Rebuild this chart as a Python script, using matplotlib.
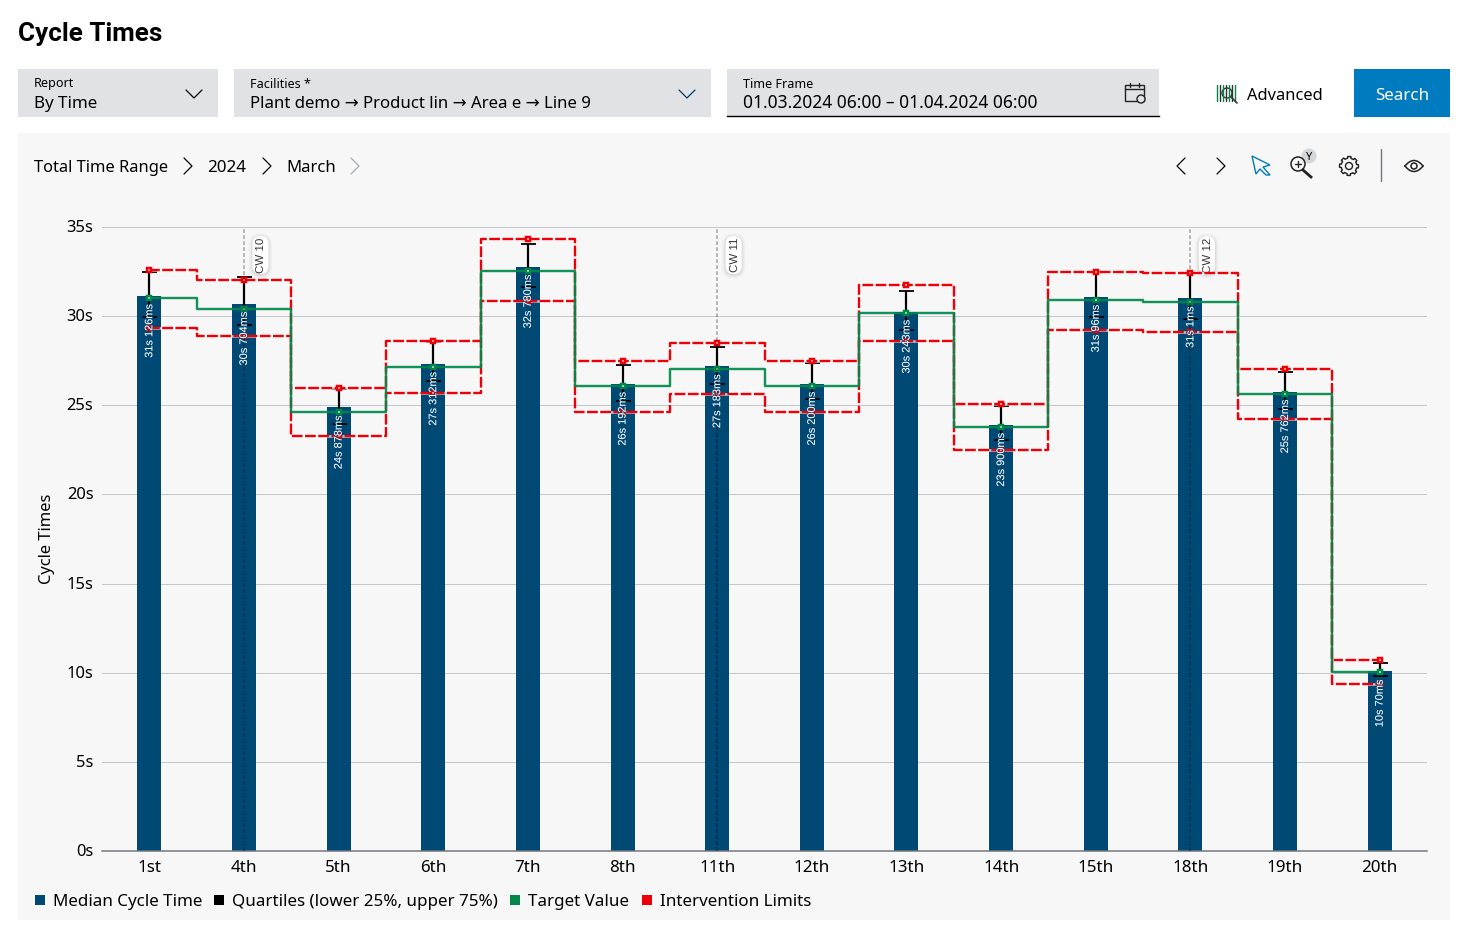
import matplotlib
matplotlib.use("Agg")
import matplotlib.pyplot as plt
import numpy as np
from matplotlib.patches import Rectangle, FancyBboxPatch, Circle, Polygon
from matplotlib.lines import Line2D
from matplotlib.transforms import ScaledTranslation
import matplotlib.patheffects as pe

plt.rcParams['font.family'] = ['Noto Sans', 'DejaVu Sans']

days = ["1st", "4th", "5th", "6th", "7th", "8th", "11th", "12th", "13th", "14th", "15th", "18th", "19th", "20th"]
median = [31.126, 30.704, 24.878, 27.312, 32.78, 26.192, 27.183, 26.2, 30.243, 23.9, 31.096, 31.001, 25.762, 10.07]
value_labels = ["31s 126ms", "30s 704ms", "24s 878ms", "27s 312ms", "32s 780ms", "26s 192ms", "27s 183ms",
                "26s 200ms", "30s 243ms", "23s 900ms", "31s 96ms", "31s 1ms", "25s 762ms", "10s 70ms"]
q_upper = [32.45, 32.17, 25.93, 28.56, 34.06, 27.27, 28.28, 27.39, 31.42, 24.94, 32.49, 32.40, 26.88, 10.56]
q_lower = [29.97, 29.52, 23.93, 26.39, 31.61, 25.22, 26.17, 25.33, 29.20, 23.07, 29.97, 29.85, 24.81, 9.79]
target = [30.99, 30.42, 24.64, 27.16, 32.56, 26.06, 27.01, 26.06, 30.15, 23.81, 30.88, 30.77, 25.61, 10.02]
limit_upper = [32.60, 32.04, 25.98, 28.62, 34.30, 27.46, 28.47, 27.46, 31.72, 25.09, 32.49, 32.40, 27.01, 10.73]
limit_lower = [29.35, 28.86, 23.29, 25.70, 30.86, 24.64, 25.61, 24.65, 28.58, 22.47, 29.24, 29.12, 24.25, 9.34]
cw_weeks = [("CW 10", 1), ("CW 11", 6), ("CW 12", 11)]
y_ticks = [0, 5, 10, 15, 20, 25, 30, 35]

BLUE = "#004975"
GREEN = "#00884a"
RED = "#ed0007"
PX = 0.72  # one pixel in points at dpi 100

W, H = 1469, 938
fig = plt.figure(figsize=(W / 100, H / 100), dpi=100, facecolor="white")

# page chrome, in pixels
ui = fig.add_axes([0, 0, 1, 1])
ui.set_xlim(0, W)
ui.set_ylim(H, 0)
ui.axis("off")


def txt(x, y, s, px=16, **kw):
    kw.setdefault("va", "center")
    kw.setdefault("color", "#000000")
    ui.text(x, y, s, fontsize=px * PX, **kw)


def poly(xs, ys, color="#000000", lw=0.9, zorder=4):
    ui.plot(xs, ys, color=color, lw=lw, solid_capstyle="round", solid_joinstyle="miter", zorder=zorder)


def chevron_down(x, y, color="#000000"):
    poly([x - 8, x, x + 8], [y - 4, y + 4, y - 4], color)


def chevron_right(x, y, color="#000000"):
    poly([x - 4, x + 4, x - 4], [y - 8, y, y + 8], color)


def chevron_left(x, y, color="#000000"):
    poly([x + 4, x - 4, x + 4], [y - 8, y, y + 8], color)


ui.add_patch(Rectangle((18, 133), 1432, 787, fc="#f7f7f7", ec="none"))
txt(18, 34, "Cycle Times", 26, fontweight="bold", family="Roboto")

ui.add_patch(Rectangle((18, 69), 200, 48, fc="#e0e2e5", ec="none"))
txt(34, 84, "Report", 12.6)
txt(34, 103.5, "By Time", 17)
chevron_down(194, 94)

ui.add_patch(Rectangle((234, 69), 477, 48, fc="#e0e2e5", ec="none"))
txt(250, 84, "Facilities *", 12.6)
txt(250, 103.5, "Plant demo \u2192 Product lin \u2192 Area e \u2192 Line 9", 16.8)
chevron_down(687, 94, "#003b6a")

ui.add_patch(Rectangle((727, 69), 432, 48, fc="#e0e2e5", ec="none"))
ui.plot([727, 1159], [116.5, 116.5], color="#000000", lw=1.0)
txt(743, 85, "Time Frame", 12.6)
txt(743, 102.5, "01.03.2024 06:00 \u2013 01.04.2024 06:00", 17.4)

# calendar icon
ui.add_patch(Rectangle((1125, 85), 19, 16, fc="none", ec="#222222", lw=1.0))
poly([1125, 1144], [89, 89], "#222222", 1.0)
poly([1130, 1130], [83, 87], "#222222", 1.0)
poly([1139, 1139], [83, 87], "#222222", 1.0)
ui.add_patch(Circle((1141, 99), 4, fc="#e0e2e5", ec="#222222", lw=1.0, zorder=3))

# advanced icon
for k, c in zip(range(1217, 1236, 3), ["#00884a", "#333333"] * 4):
    poly([k, k], [85, 101], c, 1.0)
ui.add_patch(Circle((1227, 93), 5, fc="none", ec="#333333", lw=1.0, zorder=3))
poly([1231, 1237], [97, 103], "#333333", 1.2)
txt(1247, 95.5, "Advanced", 16.4)

ui.add_patch(Rectangle((1354, 69), 96, 48, fc="#007bc0", ec="none"))
txt(1402, 95.5, "Search", 17, color="white", ha="center")

txt(34, 167.5, "Total Time Range", 16.5)
chevron_right(188, 166)
txt(207.5, 167.5, "2024", 17)
chevron_right(267, 166)
txt(286.5, 167.5, "March", 16.7)
chevron_right(355, 166, "#a4abb3")

chevron_left(1181, 166)
chevron_right(1221, 166)
# cursor icon
ui.add_patch(Polygon([(1252, 156), (1270, 165), (1263, 167), (1270, 175), (1266, 175), (1260, 169), (1256, 174)],
                     closed=True, fc="none", ec="#007bc0", lw=1.0))
# zoom icon with Y badge
ui.add_patch(Circle((1309, 156), 7.5, fc="#d4d7da", ec="none"))
txt(1309, 157, "Y", 11, ha="center")
ui.add_patch(Circle((1298, 164), 7, fc="#f7f7f7", ec="#222222", lw=1.1, zorder=3))
poly([1295, 1301], [164, 164], "#222222", 1.0)
poly([1298, 1298], [161, 167], "#222222", 1.0)
ui.plot([1303, 1311], [170, 177], color="#222222", lw=2.0, zorder=3)
# gear icon
ang = np.linspace(0, 2 * np.pi, 97)
rad = 9.5 - 1.7 * (np.cos(8 * ang) < 0)
ui.add_patch(Polygon(np.c_[1349 + rad * np.cos(ang), 166 + rad * np.sin(ang)], closed=True, fc="none", ec="#222222", lw=1.0))
ui.add_patch(Circle((1349, 166), 3.5, fc="none", ec="#222222", lw=1.0))
poly([1381.5, 1381.5], [149, 181], "#71767c", 1.0)
# eye icon
t = np.linspace(-1, 1, 41)
ui.plot(1414 + 9 * t, 166 - 5.5 * (1 - t ** 2), color="#222222", lw=1.1)
ui.plot(1414 + 9 * t, 166 + 5.5 * (1 - t ** 2), color="#222222", lw=1.1)
ui.add_patch(Circle((1414, 166), 3, fc="none", ec="#222222", lw=1.1))

# chart
ax = fig.add_axes([102 / W, (H - 851) / H, 1325 / W, 624 / H], facecolor="none")
x = np.arange(len(days))
ax.set_xlim(-0.5, len(days) - 0.5)
ax.set_ylim(0, 35)
ax.set_axisbelow(True)
ax.grid(axis="y", color="#c1c7cc", lw=1 * PX)
ax.set_yticks(y_ticks)
ax.set_yticklabels(["%ds" % v for v in y_ticks], fontsize=16.5 * PX)
ax.set_xticks(x)
ax.set_xticklabels(days, fontsize=17 * PX)
ax.tick_params(axis="y", length=0, pad=6.2)
ax.tick_params(axis="x", length=0, pad=6.7)
for lab in ax.get_yticklabels():
    lab.set_transform(lab.get_transform() + ScaledTranslation(0, 1 / 100, fig.dpi_scale_trans))
for s in ["top", "left", "right"]:
    ax.spines[s].set_visible(False)
ax.spines["bottom"].set_color("#71767c")
ax.spines["bottom"].set_linewidth(1.5 * PX)
ax.set_ylabel("Cycle Times", fontsize=16.5 * PX)
ax.yaxis.set_label_coords((55 - 102) / 1325, 0.5)

ax.bar(x, median, width=0.2536, color=BLUE, zorder=2)

# quartile whiskers
ax.vlines(x, q_lower, q_upper, color="black", lw=2.2 * PX, zorder=3)
ax.plot(x, q_upper, ls="none", marker="_", ms=15 * PX, mew=1.8 * PX, color="black", zorder=3)
ax.plot(x, q_lower, ls="none", marker="_", ms=15 * PX, mew=1.8 * PX, color="black", zorder=3)

# intervention limits, white showing through the dash gaps
for lim in [limit_upper, limit_lower]:
    ax.plot(x, lim, drawstyle="steps-mid", color="white", lw=2.6 * PX, alpha=0.7, zorder=4)
    ax.plot(x, lim, drawstyle="steps-mid", color=RED, lw=2.4 * PX, ls=(0, (4.5, 1)), zorder=4)
    ax.plot(x, lim, ls="none", marker="s", ms=4.5 * PX, mfc="white", mec=RED, mew=2.5 * PX, zorder=5)

ax.plot(x, target, drawstyle="steps-mid", color=GREEN, lw=2.4 * PX, alpha=0.92, zorder=5)
ax.plot(x, target, ls="none", marker="s", ms=4.5 * PX, mfc="white", mec=GREEN, mew=2.5 * PX, zorder=6)

# calendar week markers
for label, i in cw_weeks:
    ax.axvline(i, color="black", alpha=0.35, lw=1.5 * PX, ls=(0, (2.5, 1.5)), zorder=6)
    px_x = 102 + (i + 0.5) * 1325 / len(days)
    for off, a in [(4, 0.015), (3, 0.02), (2, 0.03), (1, 0.04)]:
        ui.add_patch(FancyBboxPatch((px_x + 8.5 - off, 236 - off + 1), 16 + 2 * off, 38 + 2 * off,
                                    boxstyle="round,pad=0,rounding_size=%g" % (8 + off), fc="black", ec="none",
                                    alpha=a, zorder=2))
    ui.add_patch(FancyBboxPatch((px_x + 8.5, 236), 16, 38, boxstyle="round,pad=0,rounding_size=8",
                                fc="white", ec="none", zorder=3))
    ui.text(px_x + 17.5, 255, label, fontsize=11.5 * PX, rotation=90, ha="center", va="center",
            color="#333333", family="Liberation Sans", zorder=4)

# value labels inside the bars
for xi, v, s in zip(x, median, value_labels):
    ax.annotate(s, (xi, v), xytext=(0, -8 * PX), textcoords="offset points", rotation=90,
                ha="center", va="top", color="white", fontsize=11 * PX, family="Liberation Sans", zorder=10,
                path_effects=[pe.withStroke(linewidth=1.2, foreground=BLUE, alpha=0.6)])

handles = [Line2D([], [], ls="none", marker="s", ms=10 * PX, color=c, mew=0) for c in [BLUE, "black", GREEN, RED]]
fig.legend(handles, ["Median Cycle Time", "Quartiles (lower 25%, upper 75%)", "Target Value", "Intervention Limits"],
           loc="center left", bbox_to_anchor=(21 / W, (H - 902) / H), ncols=4, frameon=False, fontsize=17 * PX,
           handletextpad=0.16, columnspacing=0.42, handlelength=1.2, borderpad=0, labelcolor="#000000")

fig.savefig("out.png", dpi=100)
